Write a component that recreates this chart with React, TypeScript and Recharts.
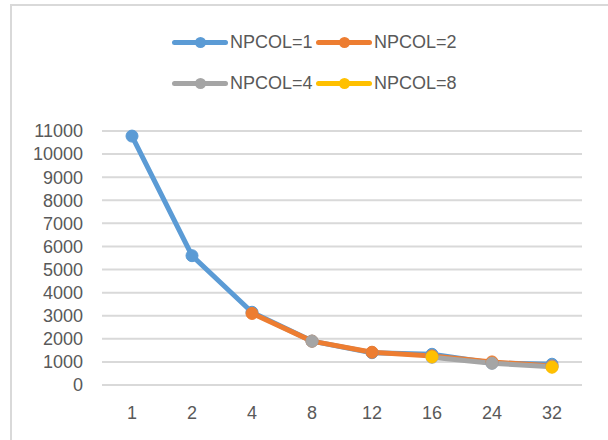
import { CartesianGrid, Line, LineChart, XAxis, YAxis } from "recharts";

const categories = ["1", "2", "4", "8", "12", "16", "24", "32"];
const npcol1 = [10780, 5600, 3150, 1900, 1400, 1330, 950, 900];
const npcol2 = [null, null, 3100, 1900, 1420, 1260, 1000, 820];
const npcol4 = [null, null, null, 1900, null, 1200, 940, 790];
const npcol8 = [null, null, null, null, null, 1220, null, 770];
const yTicks = [0, 1000, 2000, 3000, 4000, 5000, 6000, 7000, 8000, 9000, 10000, 11000];

const series = [
  { key: "s1", label: "NPCOL=1", color: "#5B9BD5", values: npcol1 },
  { key: "s2", label: "NPCOL=2", color: "#ED7D31", values: npcol2 },
  { key: "s4", label: "NPCOL=4", color: "#A5A5A5", values: npcol4 },
  { key: "s8", label: "NPCOL=8", color: "#FFC000", values: npcol8 },
];

const data = categories.map((c, i) => {
  const row: Record<string, string | number | null> = { x: c };
  for (const s of series) row[s.key] = s.values[i];
  return row;
});

const FONT = "'Liberation Sans', Arial, sans-serif";
const TEXT = "#595959";

// two-row legend like Excel puts it, drawn outside the svg
function LegendBlock() {
  return (
    <div style={{ position: "absolute", left: 0, top: 0, width: 608, height: 110 }}>
      {series.map((s, i) => {
        const left = i % 2 === 0 ? 172 : 316;
        const top = i < 2 ? 42 : 83;
        return (
          <div key={s.key} style={{ position: "absolute", left, top: top - 12, height: 24 }}>
            <div
              style={{
                position: "absolute",
                left: 0,
                top: 9.5,
                width: 56,
                height: 5,
                borderRadius: 3,
                background: s.color,
              }}
            />
            <div
              style={{
                position: "absolute",
                left: 22.5,
                top: 6.5,
                width: 11,
                height: 11,
                borderRadius: "50%",
                background: s.color,
              }}
            />
            <div
              style={{
                position: "absolute",
                left: 58,
                top: 0,
                lineHeight: "24px",
                fontSize: 18,
                fontFamily: FONT,
                color: TEXT,
                whiteSpace: "nowrap",
              }}
            >
              {s.label}
            </div>
          </div>
        );
      })}
    </div>
  );
}

export default function App() {
  return (
    <div
      style={{
        position: "absolute",
        left: 0,
        top: 0,
        width: 608,
        height: 440,
        background: "#fff",
        overflow: "hidden",
      }}
    >
      <div
        style={{
          position: "absolute",
          left: 10,
          top: 4,
          width: 620,
          height: 460,
          borderLeft: "2px solid #d9d9d9",
          borderTop: "2px solid #d9d9d9",
        }}
      />
      <LegendBlock />
      <LineChart
        width={608}
        height={440}
        data={data}
        margin={{ top: 131, right: 26, bottom: 25, left: 0 }}
        style={{ position: "absolute", left: 0, top: 0 }}
      >
        <CartesianGrid vertical={false} stroke="#d9d9d9" strokeWidth={2} />
        <XAxis
          dataKey="x"
          axisLine={false}
          tickLine={false}
          tickMargin={15}
          padding={{ left: 30, right: 30 }}
          interval={0}
          tick={{ fill: TEXT, fontSize: 18, fontFamily: FONT }}
        />
        <YAxis
          width={102}
          domain={[0, 11000]}
          ticks={yTicks}
          interval={0}
          axisLine={false}
          tickLine={false}
          tickMargin={13}
          tick={{ fill: TEXT, fontSize: 18, fontFamily: FONT }}
        />
        {series.map((s) => (
          <Line
            key={s.key}
            dataKey={s.key}
            stroke={s.color}
            strokeWidth={5}
            strokeLinejoin="round"
            dot={{ r: 6, fill: s.color, stroke: s.color, strokeWidth: 1 }}
            connectNulls={false}
            isAnimationActive={false}
          />
        ))}
      </LineChart>
    </div>
  );
}
